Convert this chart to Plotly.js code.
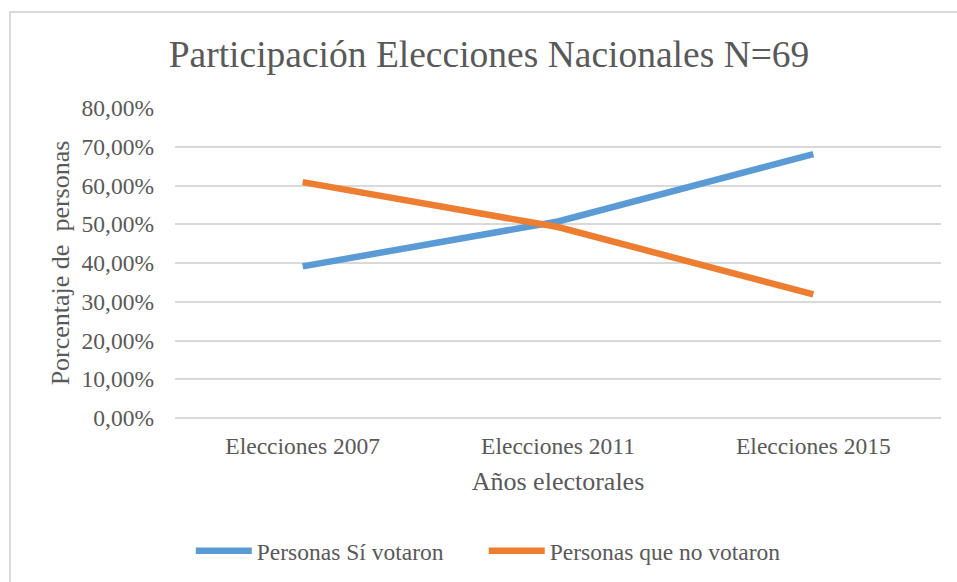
<!DOCTYPE html>
<html>
<head>
<meta charset="utf-8">
<script src="https://cdn.plot.ly/plotly-3.0.1.min.js"></script>
<style>html,body{margin:0;padding:0;background:#fff;}#chart{width:957px;height:582px;}</style>
</head>
<body>
<div id="chart"></div>
<script>
const categories = ["Elecciones 2007", "Elecciones 2011", "Elecciones 2015"];
const siVotaron = [39.13, 50.72, 68.12];
const noVotaron = [60.87, 49.28, 31.88];
const yTickVals = [0, 10, 20, 30, 40, 50, 60, 70, 80];
const yTickText = ["0,00%", "10,00%", "20,00%", "30,00%", "40,00%", "50,00%", "60,00%", "70,00%", "80,00%"];
const seriesNames = ["Personas Sí votaron", "Personas que no votaron"];

const font = "Liberation Serif";
const txt = "#595959";
const pad = "\u00a0".repeat(6);

const traces = [
  {x: categories, y: siVotaron, name: seriesNames[0] + pad, type: "scatter", mode: "lines",
   line: {color: "#5B9BD5", width: 6.5}},
  {x: categories, y: noVotaron, name: seriesNames[1], type: "scatter", mode: "lines",
   line: {color: "#ED7D31", width: 6.5}}
];

const layout = {
  width: 957, height: 582,
  margin: {l: 175, r: 16, t: 108, b: 164, autoexpand: false},
  paper_bgcolor: "#fff", plot_bgcolor: "#fff",
  font: {family: font, color: txt, size: 23.5},
  title: {text: "Participación Elecciones Nacionales N=69", font: {family: font, size: 37.5, color: txt, weight: "normal"},
          x: 0.511, xanchor: "center", xref: "container", y: 0.908, yanchor: "middle", yref: "container"},
  xaxis: {type: "category", range: [-0.5, 2.5], showgrid: false, zeroline: false,
          showline: false, ticks: "", ticklabelstandoff: 11,
          tickfont: {family: font, size: 23.5, color: txt},
          title: {text: "Años electorales", font: {family: font, size: 26, color: txt}, standoff: 14},
          automargin: false, fixedrange: true},
  yaxis: {range: [0, 80], tickvals: yTickVals, ticktext: yTickText, showgrid: true,
          gridcolor: "#d9d9d9", gridwidth: 2, zeroline: true, zerolinecolor: "#d9d9d9", zerolinewidth: 2,
          showline: false, ticks: "", ticklabelstandoff: 20,
          tickfont: {family: font, size: 23.5, color: txt},
          title: {text: "Porcentaje de&nbsp; personas", font: {family: font, size: 26, color: txt}, standoff: 4},
          automargin: false, fixedrange: true},
  showlegend: true,
  legend: {orientation: "h", x: 0.409, xanchor: "center", y: -0.429, yanchor: "middle",
           font: {family: font, size: 23.5, color: txt}, itemwidth: 56,
           tracegroupgap: 0, bgcolor: "rgba(0,0,0,0)"},
  shapes: [{type: "rect", xref: "paper", yref: "paper", x0: -0.2154, x1: 1.1, y0: -0.7, y1: 1.3097,
            line: {color: "#d9d9d9", width: 2}, fillcolor: "rgba(0,0,0,0)", layer: "below"}]
};

Plotly.newPlot("chart", traces, layout, {displayModeBar: false, staticPlot: true});
</script>
</body>
</html>
